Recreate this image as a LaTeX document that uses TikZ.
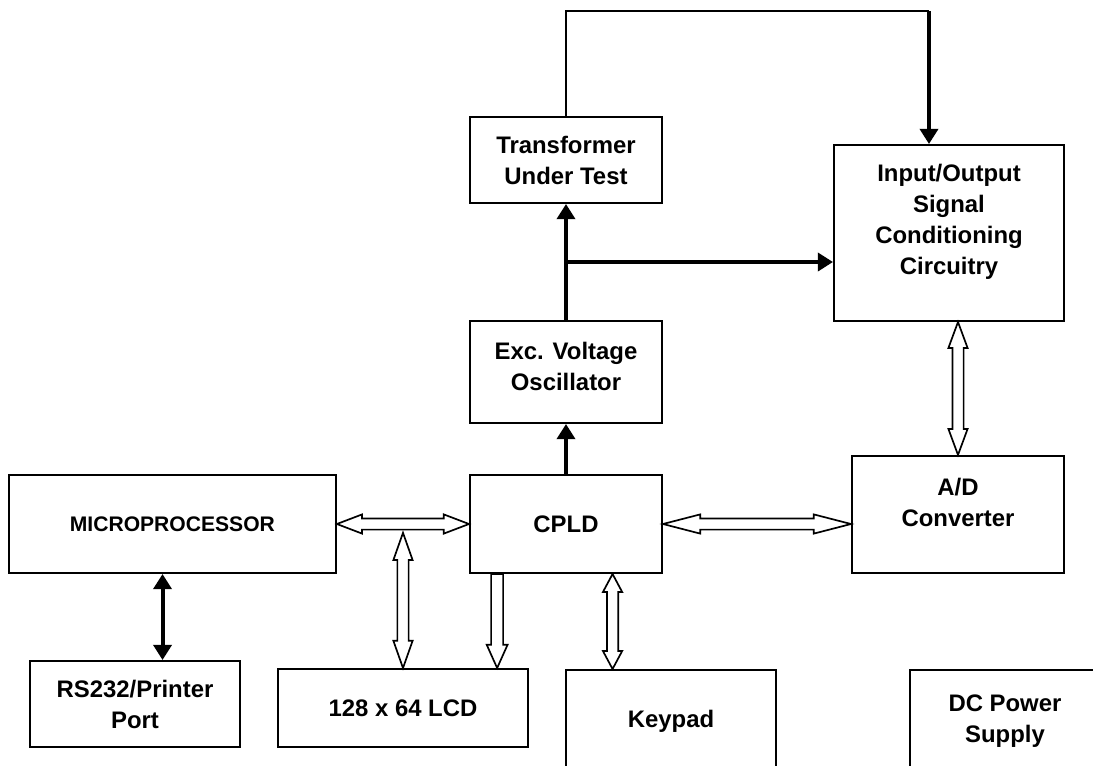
\documentclass[tikz,border=0pt]{standalone}
\usepackage{fontspec}
\setmainfont{Liberation Sans}
\usetikzlibrary{arrows.meta, positioning, calc}

\begin{document}
\begin{tikzpicture}[font=\fontsize{17}{22}\selectfont\bfseries,
        block/.style={rectangle, draw=black, line width=1.4pt, align=center, inner sep=0pt},
        sig/.style={line width=2.8pt, -{Triangle[length=0.38cm, width=0.45cm]}},
        sigboth/.style={line width=2.8pt, {Triangle[length=0.38cm, width=0.45cm]}-{Triangle[length=0.38cm, width=0.45cm]}},
        dbus/.style={draw=black, line width=1.2pt, fill=white, line join=miter, to path={
            -- ($(\tikztostart)!#1!(\tikztotarget)!0.24cm!90:(\tikztotarget)$)
            -- ($(\tikztostart)!#1!(\tikztotarget)!0.14cm!90:(\tikztotarget)$)
            -- ($(\tikztotarget)!#1!(\tikztostart)!0.14cm!-90:(\tikztostart)$)
            -- ($(\tikztotarget)!#1!(\tikztostart)!0.24cm!-90:(\tikztostart)$)
            -- (\tikztotarget)
            -- ($(\tikztotarget)!#1!(\tikztostart)!0.24cm!90:(\tikztostart)$)
            -- ($(\tikztotarget)!#1!(\tikztostart)!0.14cm!90:(\tikztostart)$)
            -- ($(\tikztostart)!#1!(\tikztotarget)!0.14cm!-90:(\tikztotarget)$)
            -- ($(\tikztostart)!#1!(\tikztotarget)!0.24cm!-90:(\tikztotarget)$)
            -- cycle}},
        sbus/.style={draw=black, line width=1.2pt, fill=white, line join=miter, to path={
            -- ($(\tikztostart)!0.15cm!90:(\tikztotarget)$)
            -- ($(\tikztotarget)!#1!(\tikztostart)!0.15cm!-90:(\tikztostart)$)
            -- ($(\tikztotarget)!#1!(\tikztostart)!0.26cm!-90:(\tikztostart)$)
            -- (\tikztotarget)
            -- ($(\tikztotarget)!#1!(\tikztostart)!0.26cm!90:(\tikztostart)$)
            -- ($(\tikztotarget)!#1!(\tikztostart)!0.15cm!90:(\tikztostart)$)
            -- ($(\tikztostart)!0.15cm!-90:(\tikztotarget)$)
            -- cycle}}
    ]
        \useasboundingbox (0,0) rectangle (27.325,-19.125);

        % blocks
        \node[block, minimum width=4.8cm, minimum height=2.15cm] (tut) at (14.15,-4.0) {Transformer\\Under Test};
        \node[block, minimum width=5.75cm, minimum height=4.4cm, text depth=0.7cm] (io) at (23.725,-5.825)
            {Input/Output\\Signal\\Conditioning\\Circuitry};
        \node[block, minimum width=4.8cm, minimum height=2.55cm, text depth=0.3cm] (osc) at (14.15,-9.3) {Exc. Voltage\\Oscillator};
        \node[block, minimum width=4.8cm, minimum height=2.45cm] (cpld) at (14.15,-13.1) {CPLD};
        \node[block, minimum width=5.3cm, minimum height=2.925cm, text depth=0.6cm] (ad) at (23.95,-12.86) {A/D\\Converter};
        \node[block, minimum width=8.175cm, minimum height=2.45cm, font=\fontsize{15}{20}\selectfont\bfseries] (micro) at (4.31,-13.1) {MICROPROCESSOR};
        \node[block, minimum width=5.25cm, minimum height=2.15cm] (rs) at (3.375,-17.6) {RS232/Printer\\Port};
        \node[block, minimum width=6.25cm, minimum height=1.95cm] (lcd) at (10.075,-17.7) {128 x 64 LCD};
        \node[block, minimum width=5.25cm, minimum height=2.55cm] (key) at (16.775,-18.025) {Keypad};
        \node[block, minimum width=4.75cm, minimum height=2.55cm] (dc) at (25.125,-18.025) {DC Power\\Supply};

        % helper points
        \coordinate (fbk) at (23.225,-0.275);
        \coordinate (br) at ($(osc.north)!0.5!(tut.south)$);
        \coordinate (mrs) at ($(micro.south west)!0.47!(micro.south east)$);
        \coordinate (tap) at ($(lcd.north |- micro.east)+(0,-0.22)$);
        \coordinate (cl) at ($(cpld.south west)!0.145!(cpld.south east)$);
        \coordinate (ck) at ($(cpld.south west)!0.74!(cpld.south east)$);

        % signal lines
        \draw[line width=1.4pt] (tut.north) -- (tut.north |- fbk) -- (fbk);
        \draw[sig] (fbk) -- (fbk |- io.north);
        \draw[sig] (osc.north) -- (tut.south);
        \draw[sig] (br) -- (br -| io.west);
        \draw[sig] (cpld.north) -- (osc.south);
        \draw[sigboth] (mrs) -- (mrs |- rs.north);

        % buses
        \draw[dbus=0.63cm] (micro.east) to (cpld.west);
        \draw[dbus=0.93cm] (cpld.east) to (cpld.east -| ad.west);
        \draw[dbus=0.65cm] (ad.north) to (ad.north |- io.south);
        \draw[dbus=0.68cm] (tap) to (lcd.north);
        \draw[sbus=0.58cm] (cl) to (cl |- lcd.north);
        \draw[dbus=0.45cm] (ck) to (ck |- key.north);
    \end{tikzpicture}
\end{document}
